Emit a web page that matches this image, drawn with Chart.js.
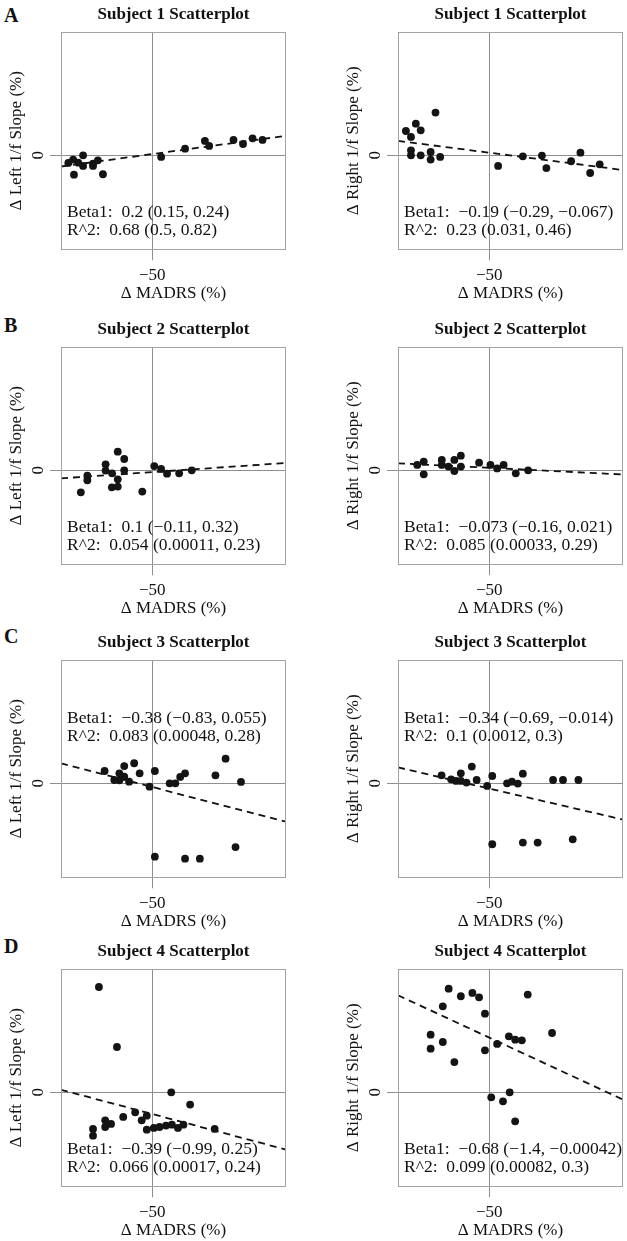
<!DOCTYPE html>
<html>
<head>
<meta charset="utf-8">
<script src="https://cdn.jsdelivr.net/npm/chart.js@4.4.1/dist/chart.umd.min.js"></script>
<style>
  body { margin: 0; background: #fff; }
  #wrap { position: relative; width: 627px; height: 1241px; overflow: hidden; }
  #wrap canvas { position: absolute; }
  .tag { position: absolute; left: 4px; font: bold 20px 'Liberation Serif', 'Times New Roman', serif; line-height: 20px; color: #111; }
</style>
</head>
<body>
<div id="wrap">
  <div class="tag" style="top:5px">A</div>
  <div class="tag" style="top:315px">B</div>
  <div class="tag" style="top:626px">C</div>
  <div class="tag" style="top:936px">D</div>
</div>
<script>
// x = change in MADRS (%), y = change in 1/f slope (%)
const s1LeftX  = [-91.4, -89.0, -88.6, -86.5, -84.1, -84.1, -79.2, -79.2, -76.8, -74.3, -45.6, -33.8, -24.0, -21.9, -9.9, -5.2, -0.5, 4.4];
const s1LeftY  = [-5.5, -3.1, -14.0, -5.3, 0.0, -7.7, -6.0, -7.7, -3.6, -13.7, -1.2, 4.8, 10.4, 6.8, 11.1, 8.2, 12.3, 11.1];
const s1RightX = [-91.1, -88.6, -86.2, -83.8, -88.6, -88.6, -83.8, -78.9, -78.9, -76.5, -74.2, -45.6, -33.4, -24.0, -21.8, -9.6, -5.0, -0.2, 4.5];
const s1RightY = [17.6, 13.3, 22.9, 18.1, 3.6, 0.0, 0.0, 2.4, -3.1, 30.9, -1.2, -7.7, -0.7, -0.2, -9.2, -4.3, 1.9, -12.8, -6.5];

const s2LeftX  = [-85.2, -82.0, -82.0, -73.0, -73.0, -69.8, -69.9, -67.0, -67.0, -67.0, -63.8, -63.8, -54.9, -49.0, -45.6, -42.7, -36.7, -30.5];
const s2LeftY  = [-15.9, -3.9, -7.2, 4.3, -0.2, -2.2, -12.3, 13.5, -6.5, -11.8, 8.2, 0.0, -15.4, 3.1, 1.0, -2.4, -2.2, 0.0];
const s2RightX = [-85.5, -82.3, -82.3, -73.4, -73.4, -70.1, -67.2, -67.2, -64.0, -64.0, -55.0, -49.4, -46.1, -42.9, -36.9, -30.8];
const s2RightY = [3.9, 6.3, -2.9, 7.5, 3.9, 2.7, 7.5, -0.5, 10.6, 2.7, 5.5, 3.9, 1.4, 3.9, -2.2, 0.0];

const s3LeftX  = [-73.5, -68.7, -66.2, -66.2, -63.8, -63.8, -61.4, -58.9, -56.2, -51.3, -48.7, -48.7, -41.4, -38.6, -36.2, -33.8, -33.8, -26.5, -18.8, -13.8, -8.9, -6.2];
const s3LeftY  = [8.9, 2.4, 7.2, 2.2, 12.5, 4.8, 1.2, 14.5, 7.2, -2.4, 8.9, -53.1, 0.0, 0.0, 4.6, 7.2, -54.5, -54.5, 5.8, 17.8, -46.1, 1.0];
const s3RightX = [-73.5, -68.8, -66.4, -64.0, -64.0, -61.2, -58.6, -56.2, -51.0, -48.5, -48.5, -41.2, -38.8, -35.9, -33.4, -33.4, -26.1, -18.5, -13.6, -8.8, -6.0];
const s3RightY = [5.8, 2.9, 1.7, 7.2, 1.7, 0.5, 12.1, 2.4, -1.9, 5.3, -44.1, 0.0, 1.2, -0.2, 7.0, -42.9, -42.9, 2.4, 2.4, -40.5, 2.4];

const s4LeftX  = [-76.3, -67.4, -40.6, -31.3, -79.2, -79.2, -73.2, -73.2, -70.3, -64.3, -58.4, -55.2, -52.7, -52.7, -49.2, -46.4, -43.2, -40.3, -37.3, -34.6, -19.2];
const s4LeftY  = [76.2, 32.8, 0.0, -8.9, -26.5, -31.4, -20.3, -25.1, -22.9, -17.8, -14.5, -20.3, -16.9, -27.0, -25.8, -25.1, -24.1, -23.4, -25.8, -23.4, -26.5];
const s4RightX = [-78.9, -78.9, -72.9, -72.9, -70.0, -67.2, -64.0, -58.3, -55.0, -52.1, -52.1, -49.0, -46.1, -43.2, -40.3, -39.9, -37.2, -37.2, -33.9, -31.0, -19.0];
const s4RightY = [41.7, 31.6, 62.2, 36.4, 75.0, 21.9, 69.5, 71.9, 68.7, 56.9, 30.4, -3.6, 35.0, -6.5, 40.5, 0.0, 38.1, -21.0, 37.6, 70.7, 42.9];

// regression: slope (Beta1) and fitted value at x = -50
const fitSlope     = [0.2, -0.19, 0.1, -0.073, -0.38, -0.34, -0.39, -0.68];
const fitAtMinus50 = [0.9, 1.9, -1.3, 1.8, -2.7, -3.8, -15.7, 39.6];

const betaText = ['0.2 (0.15, 0.24)', '\u22120.19 (\u22120.29, \u22120.067)', '0.1 (\u22120.11, 0.32)', '\u22120.073 (\u22120.16, 0.021)',
                  '\u22120.38 (\u22120.83, 0.055)', '\u22120.34 (\u22120.69, \u22120.014)', '\u22120.39 (\u22120.99, 0.25)', '\u22120.68 (\u22121.4, \u22120.00042)'];
const r2Text   = ['0.68 (0.5, 0.82)', '0.23 (0.031, 0.46)', '0.054 (0.00011, 0.23)', '0.085 (0.00033, 0.29)',
                  '0.083 (0.00048, 0.28)', '0.1 (0.0012, 0.3)', '0.066 (0.00017, 0.24)', '0.099 (0.00082, 0.3)'];
const statsAtTop = [false, false, false, false, true, true, false, false];

const subjects = ['Subject 1 Scatterplot', 'Subject 2 Scatterplot', 'Subject 3 Scatterplot', 'Subject 4 Scatterplot'];
const yLabels = ['\u0394 Left 1/f Slope (%)', '\u0394 Right 1/f Slope (%)'];
const xTick = -50, yTick = 0;
const xMin = -95, xMax = 16, yMin = -68, yMax = 89;

const xs = [s1LeftX, s1RightX, s2LeftX, s2RightX, s3LeftX, s3RightX, s4LeftX, s4RightX];
const ys = [s1LeftY, s1RightY, s2LeftY, s2RightY, s3LeftY, s3RightY, s4LeftY, s4RightY];

const rowTops = [0, 315, 628, 937];
const serif = "'Liberation Serif', 'Times New Roman', serif";
Chart.defaults.font.family = serif;
Chart.defaults.color = '#111';

const panelDecor = {
    id: 'panelDecor',
    afterDraw(chart, args, opts) {
        const ctx = chart.ctx, a = chart.chartArea;
        ctx.save();
        ctx.strokeStyle = '#a3a3a3';
        ctx.lineWidth = 1;
        ctx.strokeRect(Math.round(a.left) + 0.5, Math.round(a.top) + 0.5, Math.round(a.right - a.left) - 1, Math.round(a.bottom - a.top));
        ctx.fillStyle = '#111';
        ctx.font = '17px ' + serif;
        // y tick label, written along the axis
        const y0 = chart.scales.y.getPixelForValue(yTick);
        ctx.save();
        ctx.translate(a.left - 22, y0);
        ctx.rotate(-Math.PI / 2);
        ctx.textAlign = 'center';
        ctx.textBaseline = 'middle';
        ctx.fillText('0', 0, 0);
        ctx.restore();
        // regression stats
        const t = opts.top ? [58.5, 76] : [180, 198.5];
        ctx.font = '17.5px ' + serif;
        ctx.textAlign = 'left';
        ctx.textBaseline = 'middle';
        ctx.fillText('Beta1:  ' + opts.beta, a.left + 6, a.top + t[0]);
        ctx.fillText('R^2:  ' + opts.r2, a.left + 6, a.top + t[1]);
        ctx.restore();
    }
};

xs.forEach((px, i) => {
    const row = Math.floor(i / 2), col = i % 2;
    const canvas = document.createElement('canvas');
    canvas.width = 290;
    canvas.height = 304;
    canvas.style.left = (col ? 337 : 0) + 'px';
    canvas.style.top = rowTops[row] + 'px';
    document.getElementById('wrap').appendChild(canvas);

    const points = px.map((x, k) => ({ x: x, y: ys[i][k] }));
    const fit = [xMin, xMax].map(x => ({ x: x, y: fitAtMinus50[i] + fitSlope[i] * (x - xTick) }));

    new Chart(canvas, {
        type: 'scatter',
        data: {
            datasets: [
                {
                    data: points,
                    backgroundColor: '#141414',
                    borderWidth: 0,
                    pointRadius: 3.9
                },
                {
                    data: fit,
                    showLine: true,
                    borderColor: '#111',
                    borderWidth: 1.8,
                    borderDash: [7, 5],
                    pointRadius: 0
                }
            ]
        },
        plugins: [panelDecor],
        options: {
            responsive: false,
            animation: false,
            devicePixelRatio: 1,
            layout: { padding: { left: 0, right: 1, top: 0, bottom: 0 } },
            plugins: {
                legend: { display: false },
                tooltip: { enabled: false },
                title: {
                    display: true,
                    fullSize: false,
                    text: subjects[row],
                    color: '#111',
                    font: { size: 17, weight: 'bold', family: serif },
                    padding: { top: 4.5, bottom: 7.4 }
                },
                panelDecor: { beta: betaText[i], r2: r2Text[i], top: statsAtTop[i] }
            },
            scales: {
                x: {
                    type: 'linear',
                    min: xMin,
                    max: xMax,
                    afterBuildTicks: s => { s.ticks = [{ value: xTick }]; },
                    afterFit: s => { s.height = 54.7; },
                    grid: { color: '#8e8e8e', tickColor: '#8e8e8e', tickLength: 11, lineWidth: 1 },
                    border: { display: false },
                    ticks: {
                        font: { size: 17 },
                        color: '#111',
                        padding: 5,
                        maxRotation: 0,
                        callback: v => String(v).replace('-', '\u2212')
                    },
                    title: {
                        display: true,
                        text: '\u0394 MADRS (%)',
                        color: '#111',
                        font: { size: 17 },
                        padding: { top: 0, bottom: 0 }
                    }
                },
                y: {
                    type: 'linear',
                    min: yMin,
                    max: yMax,
                    afterBuildTicks: s => { s.ticks = [{ value: yTick }]; },
                    afterFit: s => { s.width = 61; },
                    grid: { color: '#8e8e8e', tickColor: '#8e8e8e', tickLength: 11, lineWidth: 1 },
                    border: { display: false },
                    ticks: { display: false },
                    title: {
                        display: true,
                        text: yLabels[col],
                        color: '#111',
                        font: { size: 17 },
                        padding: { top: 6, bottom: 0 }
                    }
                }
            }
        }
    });
});
</script>
</body>
</html>
